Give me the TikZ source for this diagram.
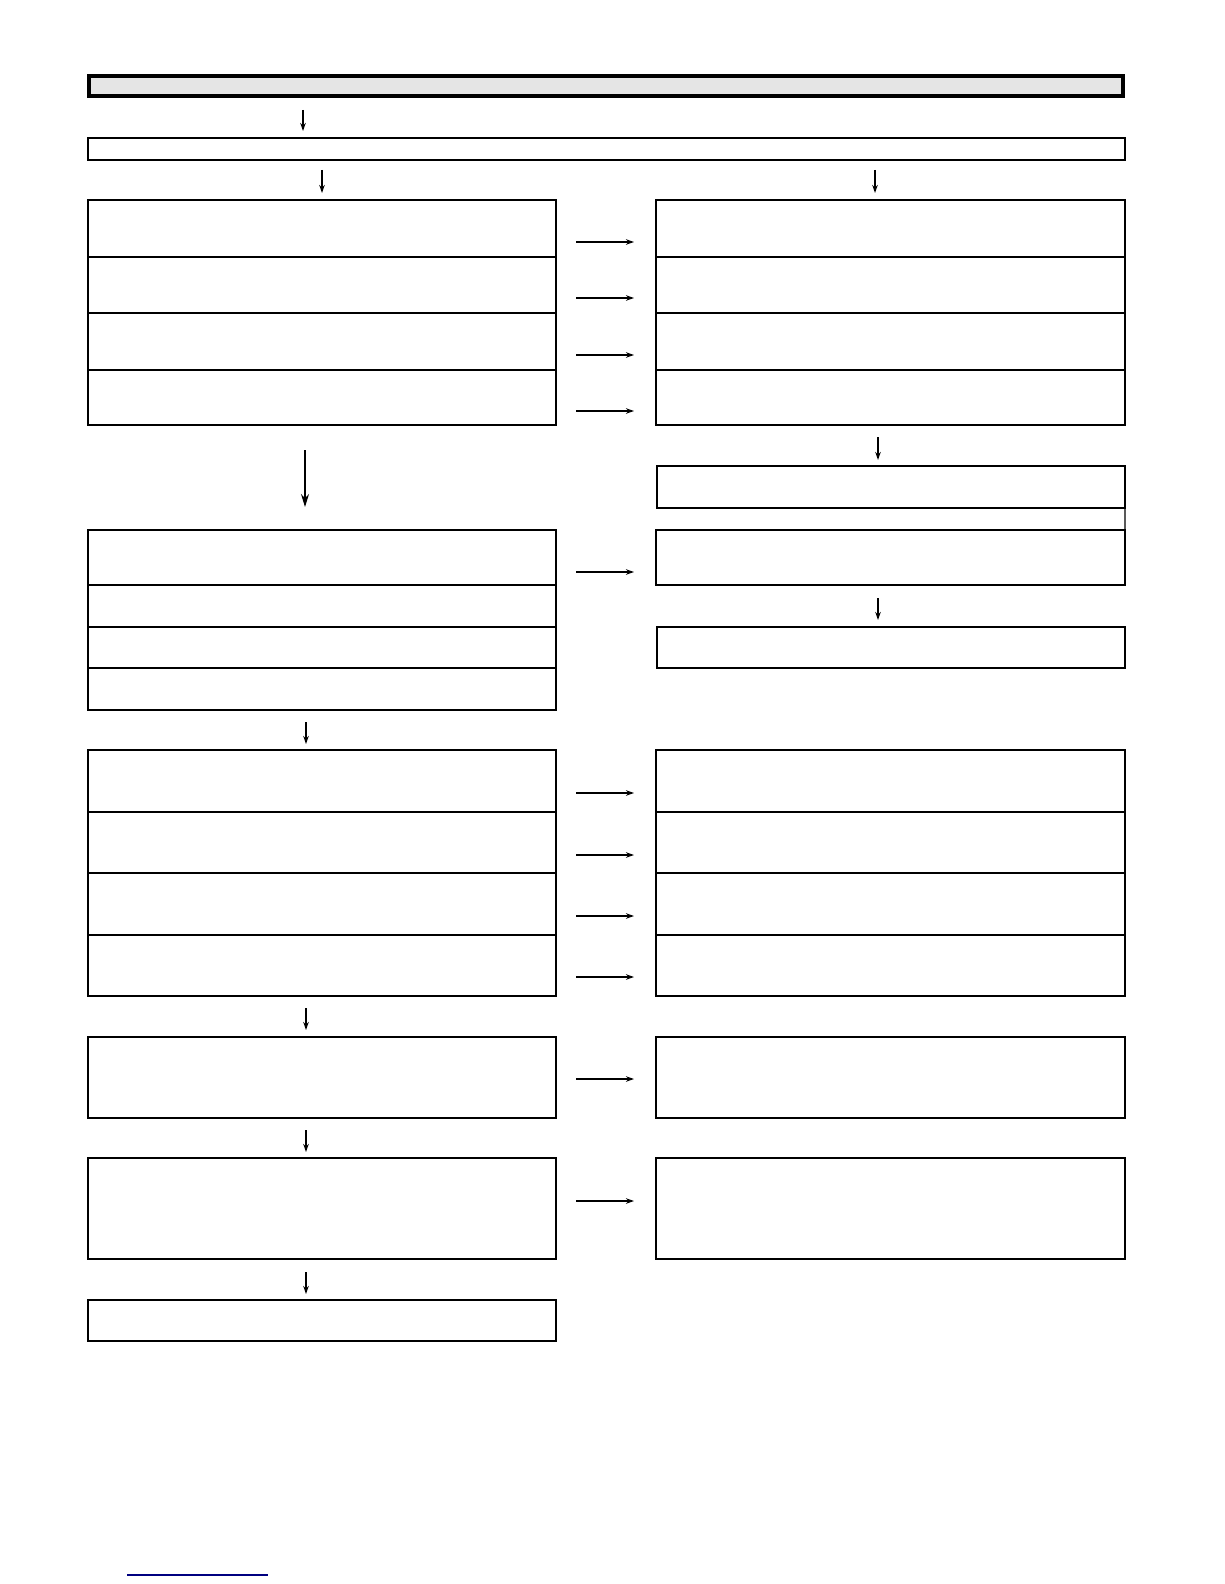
\documentclass[tikz,border=0pt]{standalone}
\usetikzlibrary{arrows.meta}
\begin{document}
\begin{tikzpicture}[x=0.02cm, y=-0.02cm, line width=0.7pt, >={Stealth[length=1.6mm, width=1.1mm]},
    lbox/.style={rectangle, draw=black, inner sep=0pt, outer sep=0pt, minimum width=9.36cm},
    rbox/.style={rectangle, draw=black, inner sep=0pt, outer sep=0pt, minimum width=9.38cm}]
        \useasboundingbox (0,0) rectangle (1224,1584);
        % heading and top bar
        \node(100) at (606,86) [rectangle, draw=black, line width=2.3pt, fill=black!10, inner sep=0pt, minimum width=20.68cm, minimum height=0.40cm] {};
        \node(101) at (606.5,149) [rectangle, draw=black, inner sep=0pt, minimum width=20.74cm, minimum height=0.44cm] {};
        \coordinate(a1) at (303,110); \coordinate(b1) at (303,131);
        \draw [->] (a1) -- (b1);
        \coordinate(a2) at (322,170); \coordinate(b2) at (322,193);
        \draw [->] (a2) -- (b2);
        \coordinate(a3) at (875,170); \coordinate(b3) at (875,193);
        \draw [->] (a3) -- (b3);
        % first block
        \node(111) at (322,228.5) [lbox, minimum height=1.14cm] {};
        \node(112) at (322,285) [lbox, minimum height=1.12cm] {};
        \node(113) at (322,341.5) [lbox, minimum height=1.14cm] {};
        \node(114) at (322,397.5) [lbox, minimum height=1.10cm] {};
        \node(121) at (890.5,228.5) [rbox, minimum height=1.14cm] {};
        \node(122) at (890.5,285) [rbox, minimum height=1.12cm] {};
        \node(123) at (890.5,341.5) [rbox, minimum height=1.14cm] {};
        \node(124) at (890.5,397.5) [rbox, minimum height=1.10cm] {};
        \foreach \i/\y in {1/242, 2/298, 3/355, 4/411} {
            \coordinate(h\i) at (576,\y); \coordinate(k\i) at (634,\y);
            \draw [->] (h\i) -- (k\i);
        }
        % right side chain
        \coordinate(a4) at (878,437); \coordinate(b4) at (878,460);
        \draw [->] (a4) -- (b4);
        \node(125) at (891,487) [rectangle, draw=black, inner sep=0pt, outer sep=0pt, minimum width=9.36cm, minimum height=0.84cm] {};
        \node(126) at (890.5,557.5) [rbox, minimum height=1.10cm] {};
        \draw (125.south east) -- (126.north east);
        \coordinate(a5) at (878,598); \coordinate(b5) at (878,620);
        \draw [->] (a5) -- (b5);
        \node(127) at (891,647.5) [rectangle, draw=black, inner sep=0pt, outer sep=0pt, minimum width=9.36cm, minimum height=0.82cm] {};
        % second block
        \coordinate(a6) at (305,450); \coordinate(b6) at (305,507);
        \draw [-{Stealth[length=2.6mm, width=1.6mm]}] (a6) -- (b6);
        \node(131) at (322,557.5) [lbox, minimum height=1.10cm] {};
        \node(132) at (322,606) [lbox, minimum height=0.84cm] {};
        \node(133) at (322,647.5) [lbox, minimum height=0.82cm] {};
        \node(134) at (322,689) [lbox, minimum height=0.84cm] {};
        \coordinate(h5) at (576,572); \coordinate(k5) at (634,572);
        \draw [->] (h5) -- (k5);
        % third block
        \coordinate(a7) at (306,722); \coordinate(b7) at (306,744);
        \draw [->] (a7) -- (b7);
        \node(141) at (322,781) [lbox, minimum height=1.24cm] {};
        \node(142) at (322,842.5) [lbox, minimum height=1.22cm] {};
        \node(143) at (322,904) [lbox, minimum height=1.24cm] {};
        \node(144) at (322,965.5) [lbox, minimum height=1.22cm] {};
        \node(151) at (890.5,781) [rbox, minimum height=1.24cm] {};
        \node(152) at (890.5,842.5) [rbox, minimum height=1.22cm] {};
        \node(153) at (890.5,904) [rbox, minimum height=1.24cm] {};
        \node(154) at (890.5,965.5) [rbox, minimum height=1.22cm] {};
        \foreach \i/\y in {6/793, 7/855, 8/916, 9/977} {
            \coordinate(h\i) at (576,\y); \coordinate(k\i) at (634,\y);
            \draw [->] (h\i) -- (k\i);
        }
        % lower blocks
        \coordinate(a8) at (306,1008); \coordinate(b8) at (306,1030);
        \draw [->] (a8) -- (b8);
        \node(161) at (322,1077.5) [lbox, minimum height=1.62cm] {};
        \node(171) at (890.5,1077.5) [rbox, minimum height=1.62cm] {};
        \coordinate(h10) at (576,1079); \coordinate(k10) at (634,1079);
        \draw [->] (h10) -- (k10);
        \coordinate(a9) at (306,1130); \coordinate(b9) at (306,1152);
        \draw [->] (a9) -- (b9);
        \node(162) at (322,1208.5) [lbox, minimum height=2.02cm] {};
        \node(172) at (890.5,1208.5) [rbox, minimum height=2.02cm] {};
        \coordinate(h11) at (576,1201); \coordinate(k11) at (634,1201);
        \draw [->] (h11) -- (k11);
        \coordinate(a10) at (306,1272); \coordinate(b10) at (306,1294);
        \draw [->] (a10) -- (b10);
        \node(163) at (322,1320.5) [lbox, minimum height=0.82cm] {};
        % footer rule
        \coordinate(f1) at (127,1575); \coordinate(f2) at (268,1575);
        \draw [blue!50!black, line width=0.8pt] (f1) -- (f2);
    \end{tikzpicture}
\end{document}
